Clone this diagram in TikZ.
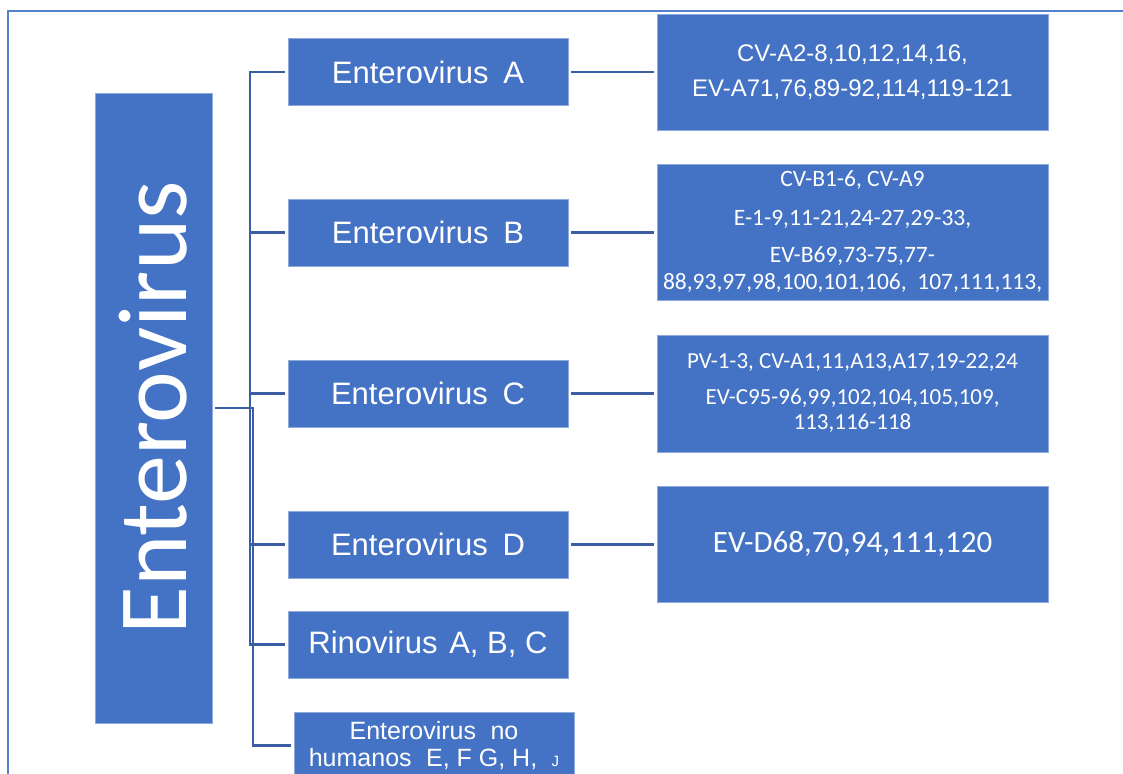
\documentclass[tikz,border=0pt]{standalone}
\usepackage{fontspec}
\setmainfont{Liberation Sans}
\newfontfamily\calibri{Carlito}
\usepackage{graphicx}

\definecolor{boxblue}{HTML}{4472C4}
\definecolor{boxedge}{HTML}{8EAADB}
\definecolor{linkblue}{HTML}{3A5DA6}
\definecolor{framecol}{HTML}{5580CC}

\begin{document}
\begin{tikzpicture}[x=1pt,y=-1pt,
  box/.style={fill=boxblue, draw=boxedge, line width=0.8pt, text=white,
              inner sep=0pt, align=center},
  rootbox/.style={box, minimum width=117pt, minimum height=630pt},
  groupbox/.style={box, minimum width=280pt, minimum height=67pt,
              font=\fontsize{31}{36}\selectfont},
  listbox/.style={box, minimum width=391pt},
  link/.style={draw=linkblue, line width=2.5pt, shorten <=3pt, shorten >=3pt}]

\useasboundingbox (0,0) rectangle (1123,773);

% outer frame (runs off the right and bottom edges)
\draw[framecol, line width=2pt] (1130,11.5) -- (7.5,11.5) -- (7.5,790);

% root
\node[rootbox] (ev) at (153.5,408)
  {\calibri\fontsize{98}{98}\selectfont\rotatebox{90}{Enterovirus}};

% species
\node[groupbox] (a)  at (428,72)    {Enterovirus\hspace{0.2em} A};
\node[groupbox] (b)  at (428,232.5) {Enterovirus\hspace{0.2em} B};
\node[groupbox] (c)  at (428,393.5) {Enterovirus\hspace{0.2em} C};
\node[groupbox] (d)  at (428,544.5) {Enterovirus\hspace{0.2em} D};
\node[groupbox] (rv) at (428,644.5) {Rinovirus\hspace{0.1em} A, B, C};
\node[groupbox, font=\fontsize{25}{27.5}\selectfont] (nh) at (434,745.5)
  {Enterovirus\hspace{0.3em} no\\humanos\hspace{0.3em} E, F G, H,\hspace{0.3em} {\fontsize{15}{15}\selectfont J}};

% serotype lists
\node[listbox, minimum height=116pt, font=\fontsize{24}{35}\selectfont] (da) at (852.5,72)
  {CV-A2-8,10,12,14,16,\\EV-A71,76,89-92,114,119-121};
\node[listbox, minimum height=136pt, font=\calibri\fontsize{23.5}{27}\selectfont] (db) at (852.5,232)
  {CV-B1-6, CV-A9\\[12pt]E-1-9,11-21,24-27,29-33,\\[10pt]EV-B69,73-75,77-\\88,93,97,98,100,101,106,\ \ 107,111,113,};
\node[listbox, minimum height=117pt, font=\calibri\fontsize{23}{25}\selectfont] (dc) at (852.5,393.5)
  {PV-1-3, CV-A1,11,A13,A17,19-22,24\\[11pt]EV-C95-96,99,102,104,105,109,\\113,116-118};
\node[listbox, minimum height=116pt, font=\calibri\fontsize{31}{36}\selectfont] (dd) at (852.5,544)
  {EV-D68,70,94,111,120};

% trunk lines of the tree
\coordinate (trunk)  at (250,0);
\coordinate (trunkb) at (253,0);

\draw[link] (ev.east) -- (trunk |- ev.east) |- (a.west);
\draw[link] (ev.east) -- (trunk |- ev.east) |- (b.west);
\draw[link] (ev.east) -- (trunk |- ev.east) |- (c.west);
\draw[link] (ev.east) -- (trunk |- ev.east) |- (d.west);
\draw[link] (ev.east) -- (trunk |- ev.east) |- (rv.west);
\draw[link] (ev.east) -- (trunkb |- ev.east) |- (nh.west);

% species to serotype lists
\draw[link] (a.east) -- (da.west |- a.east);
\draw[link] (b.east) -- (db.west |- b.east);
\draw[link] (c.east) -- (dc.west |- c.east);
\draw[link] (d.east) -- (dd.west |- d.east);
\end{tikzpicture}
\end{document}
